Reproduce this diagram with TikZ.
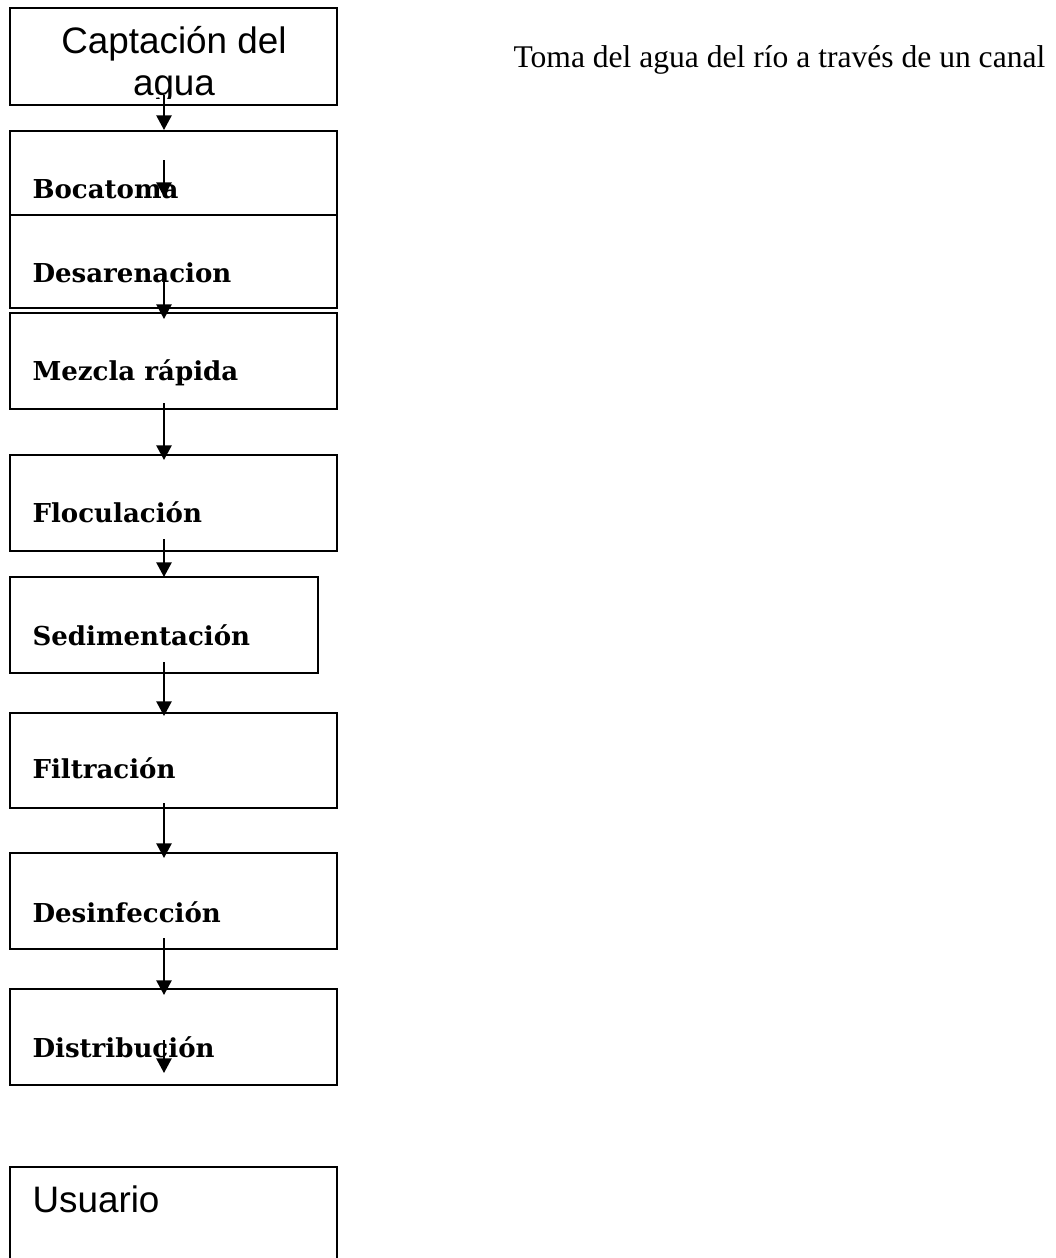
\documentclass[tikz,border=0pt]{standalone}
\usepackage{fontspec}
\setmainfont{Liberation Serif}
\newfontfamily\arialfont{Liberation Sans}
\newfontfamily\stepfont{DejaVu Serif}
\usetikzlibrary{arrows.meta,fit}
\tikzset{
  box/.style={draw, line width=0.8pt, inner sep=0pt},
  steplbl/.style={anchor=base west, inner sep=0pt, font=\stepfont\bfseries\fontsize{9.9}{11.5}\selectfont},
  plainlbl/.style={inner sep=0pt, font=\arialfont\fontsize{14}{15.6}\selectfont},
  flow/.style={line width=0.75pt, -{Triangle[width=5.8pt,length=5.6pt]}}
}
\begin{document}
\begin{tikzpicture}[x=0.38pt,y=-0.38pt]
\clip (0,0) rectangle (1055,1258);
%%%% cajas
\node[box, fit={(10,8) (337,105)}] (cap) {};
\foreach \name/\top/\bot/\right in {boca/131/215/337, desa/215/308/337, mezc/313/409/337,
  floc/455/551/337, sedi/577/673/318, filt/713/808/337, desi/853/949/337,
  dist/989/1085/337, usua/1167/1290/337}
  \node[box, fit={(10,\top) (\right,\bot)}] (\name) {};
%%%% textos
\begin{scope}
\clip (10,8) rectangle (337,98);
\node[plainlbl, align=center, anchor=base] (tcap) at (174,95) {Captación del\\agua};
\end{scope}
\foreach \name/\base/\txt in {boca/198/Bocatoma, desa/282/Desarenacion, mezc/380/Mezcla rápida,
  floc/522/Floculación, sedi/645/Sedimentación, filt/778/Filtración,
  desi/922/Desinfección, dist/1057/Distribución}
  \node[steplbl] (t\name) at (32,\base) {\txt};
\node[plainlbl, anchor=base west] (tusua) at (32,1212) {Usuario};
\node[anchor=base west, inner sep=0pt, font=\fontsize{12}{14}\selectfont] (nota) at (513,67)
  {Toma del agua del río a través de un canal};
%%%% flechas
\foreach \i/\a/\b in {1/95/130, 2/160/197, 3/280/319, 4/403/460, 5/539/577,
  6/662/716, 7/803/858, 8/938/995, 9/1040/1073} {
  \coordinate (s\i) at (164,\a);
  \coordinate (e\i) at (164,\b);
  \draw[flow] (s\i) -- (e\i);
}
\end{tikzpicture}
\end{document}
